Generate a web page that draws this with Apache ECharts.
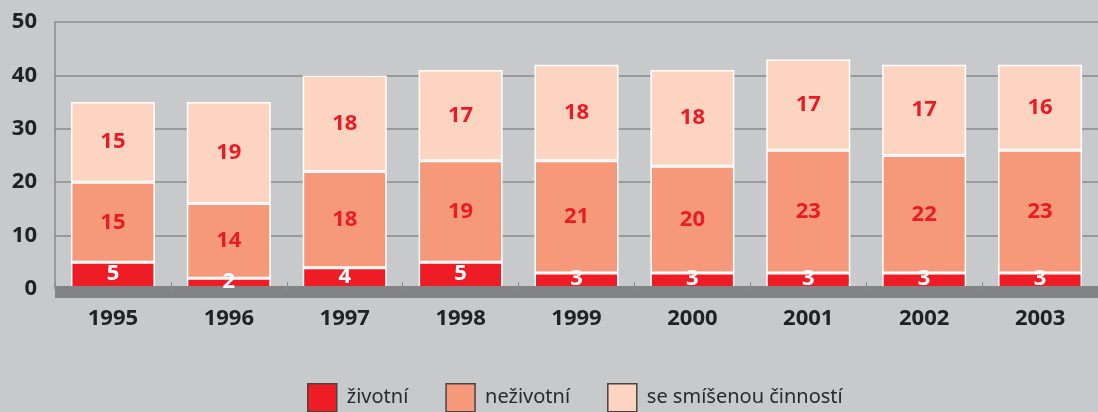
<!DOCTYPE html>
<html>
<head>
<meta charset="utf-8">
<script src="https://cdn.jsdelivr.net/npm/echarts@6/dist/echarts.min.js"></script>
<style>
  html, body { margin: 0; padding: 0; background: #c8c9cb; }
  #chart { width: 1098px; height: 412px; }
</style>
</head>
<body>
<div id="chart"></div>
<script>
// data
var years = ["1995", "1996", "1997", "1998", "1999", "2000", "2001", "2002", "2003"];
var zivotni = [5, 2, 4, 5, 3, 3, 3, 3, 3];
var nezivotni = [15, 14, 18, 19, 21, 20, 23, 22, 23];
var smisene = [15, 19, 18, 17, 18, 18, 17, 17, 16];
var seriesNames = ["životní", "neživotní", "se smíšenou činností"];

var chart = echarts.init(document.getElementById("chart"));
var font = "'Noto Sans', 'DejaVu Sans', sans-serif";

// coloured bars (the thick axis band is drawn over their feet)
function bar(name, data, color) {
  return {
    name: name,
    type: "bar",
    stack: "total",
    data: data,
    barWidth: 84,
    z: 2,
    itemStyle: { color: color, borderColor: "#ffffff", borderWidth: 1.5 },
    label: { show: false }
  };
}

// transparent copy that only carries the numbers, above the band
function labels(key, data, labelColor, dy) {
  return {
    name: key,
    type: "bar",
    stack: "labels",
    data: data,
    barWidth: 84,
    barGap: "-100%",
    z: 10,
    silent: true,
    itemStyle: { color: "rgba(0,0,0,0)" },
    label: {
      show: true,
      position: "inside",
      offset: [0, dy],
      color: labelColor,
      fontFamily: font,
      fontWeight: "bold",
      fontSize: 22
    }
  };
}

var option = {
  backgroundColor: "#c8c9cb",
  animation: false,
  grid: { left: 55, top: 22, width: 1053, height: 267 },
  legend: {
    top: 383,
    left: 307,
    padding: 0,
    itemWidth: 29,
    itemHeight: 28,
    itemGap: 37,
    icon: "rect",
    textStyle: { fontFamily: font, fontSize: 20, color: "#2a2a2a", padding: [0, 0, 0, 5] },
    data: seriesNames.map(function (n) {
      return { name: n, itemStyle: { borderColor: "#444", borderWidth: 1.5 } };
    })
  },
  xAxis: {
    type: "category",
    data: years,
    offset: 3,
    z: 5,
    axisLine: { onZero: false, lineStyle: { color: "#838383", width: 12, cap: "butt" } },
    axisTick: { show: true, inside: true, length: 10, lineStyle: { color: "#8a8a8a", width: 1 } },
    axisLabel: { margin: 16, color: "#222", fontFamily: font, fontWeight: "bold", fontSize: 22 }
  },
  yAxis: {
    type: "value",
    min: 0,
    max: 50,
    interval: 10,
    axisLine: { show: true, lineStyle: { color: "#8a8a8a", width: 1.5 } },
    axisTick: { show: false },
    splitLine: { lineStyle: { color: "#8a8a8a", width: 1.5 } },
    axisLabel: { margin: 18, color: "#222", fontFamily: font, fontWeight: "bold", fontSize: 22 }
  },
  series: [
    bar(seriesNames[0], zivotni, "#ee1c25"),
    bar(seriesNames[1], nezivotni, "#f5997a"),
    bar(seriesNames[2], smisene, "#fdd4c2"),
    labels("l0", zivotni, "#ffffff", -2),
    labels("l1", nezivotni, "#e81c24", 0),
    labels("l2", smisene, "#e81c24", 0)
  ]
};

chart.setOption(option);
</script>
</body>
</html>
